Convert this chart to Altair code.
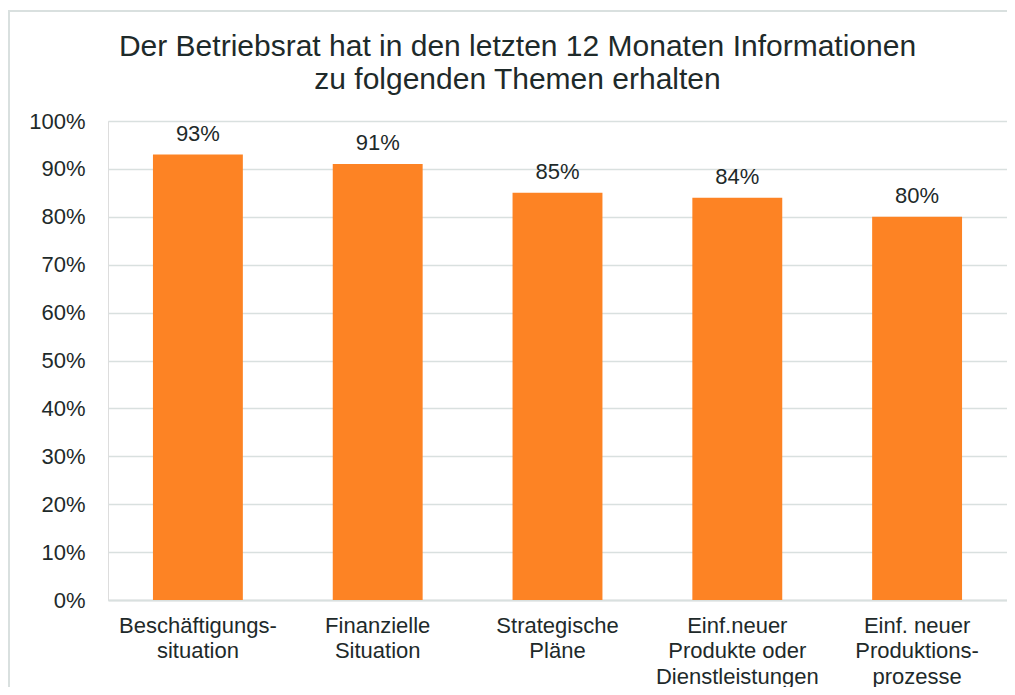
import altair as alt
import pandas as pd

categories = [
    "Beschäftigungs-\nsituation",
    "Finanzielle\nSituation",
    "Strategische\nPläne",
    "Einf.neuer\nProdukte oder\nDienstleistungen",
    "Einf. neuer\nProduktions-\nprozesse",
]
values = [0.93, 0.91, 0.85, 0.84, 0.80]
value_labels = ["93%", "91%", "85%", "84%", "80%"]

df = pd.DataFrame({"cat": categories, "val": values, "lab": value_labels})

FONT = "Liberation Sans"
TXT = "#1e2a2a"
GRID = "#d9e0df"

base = alt.Chart(df).encode(
    x=alt.X(
        "cat:N",
        sort=None,
        title=None,
        scale=alt.Scale(paddingInner=0.5, paddingOuter=0.25),
        axis=alt.Axis(
            labelAngle=0,
            labelExpr="split(datum.label, '\\n')",
            labelFont=FONT,
            labelFontSize=22,
            labelColor=TXT,
            labelLineHeight=25.5,
            labelPadding=15,
            ticks=False,
            domainColor=GRID,
            domainWidth=2,
            grid=False,
        ),
    ),
    y=alt.Y(
        "val:Q",
        title=None,
        scale=alt.Scale(domain=[0, 1], nice=False),
        axis=alt.Axis(
            format=".0%",
            values=[i / 10 for i in range(11)],
            labelFont=FONT,
            labelFontSize=22,
            labelColor=TXT,
            labelPadding=23,
            ticks=False,
            domain=False,
            gridColor=GRID,
            gridWidth=1.5,
        ),
    ),
)

bars = base.mark_bar(color="#fd8324")
labels = base.mark_text(
    dy=-14, baseline="alphabetic", font=FONT, fontSize=22, color=TXT
).encode(text="lab:N")

# light frame along the top and left edge of the figure
frame_top = alt.Chart(df).mark_rule(color=GRID, strokeWidth=2).encode(
    x=alt.value(-100), x2=alt.value(899), y=alt.value(-110)
)
frame_left = alt.Chart(df).mark_rule(color=GRID, strokeWidth=2).encode(
    x=alt.value(-99), y=alt.value(-110), y2=alt.value(566)
)

chart = (
    (bars + labels + frame_top + frame_left)
    .properties(
        width=899,
        height=479,
        autosize=alt.AutoSizeParams(type="none"),
        padding={"left": 100, "top": 113, "right": 0, "bottom": 87},
        title=alt.TitleParams(
            ["Der Betriebsrat hat in den letzten 12 Monaten Informationen",
             "zu folgenden Themen erhalten"],
            font=FONT,
            fontSize=30,
            fontWeight="normal",
            color=TXT,
            lineHeight=33,
            anchor="middle",
            dx=-40,
            dy=85,
            offset=0,
        ),
    )
    .configure_view(strokeWidth=0)
    .configure(background="white")
)

chart.save("out.html", embed_options={"renderer": "svg", "actions": False})
